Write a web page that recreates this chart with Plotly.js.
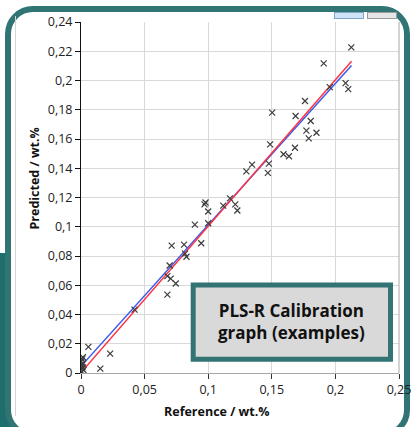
<!DOCTYPE html>
<html>
<head>
<meta charset="utf-8">
<script src="https://cdn.plot.ly/plotly-3.0.1.min.js"></script>
<style>
  html, body { margin:0; padding:0; background:#ffffff; width:412px; height:427px; overflow:hidden; }
  #block { position:absolute; left:0; top:253px; width:40px; height:180px; background:#1f6e6e; }
  #frame { position:absolute; left:5px; top:6px; width:393px; height:420px; border:6px solid #317474; border-radius:28px; background:#ffffff; }
  #vline { position:absolute; left:15px; top:16px; width:1px; height:400px; background:#d4d4d4; }
  #btn1 { position:absolute; left:334px; top:12px; width:28px; height:5px; background:#cfe4f7; border:1px solid #7fa7c9; }
  #btn2 { position:absolute; left:367px; top:12px; width:28px; height:5px; background:#e6e6e6; border:1px solid #9a9a9a; }
  #chart { position:absolute; left:0; top:0; width:412px; height:427px; }
</style>
</head>
<body>
<div id="block"></div>
<div id="frame"></div>
<div id="vline"></div>
<div id="btn1"></div>
<div id="btn2"></div>
<div id="chart"></div>
<script>
// Reference values (wt.%)
const refX = [
  0.2125, 0.1908, 0.1956, 0.2080, 0.2101, 0.1503, 0.1687, 0.1761, 0.1806, 0.1772,
  0.1851, 0.1790, 0.1487, 0.1592, 0.1635, 0.1682, 0.1477, 0.1469, 0.1300, 0.1345,
  0.1118, 0.1171, 0.1213, 0.1229, 0.0971, 0.0979, 0.1000, 0.1000, 0.0895, 0.0945,
  0.0810, 0.0713, 0.0818, 0.0829, 0.0697, 0.0679, 0.0705, 0.0745, 0.0679, 0.0421,
  0.0058, 0.0015, 0.0229, 0.0152, 0.0003, 0.0010, 0.0005, 0.0012, 0.0020, 0.0006,
  0.0010, 0.0002, 0.0015
];
// Predicted values (wt.%)
const predY = [
  0.2227, 0.2117, 0.1955, 0.1982, 0.1941, 0.1780, 0.1757, 0.1860, 0.1723, 0.1657,
  0.1643, 0.1604, 0.1563, 0.1496, 0.1482, 0.1540, 0.1432, 0.1368, 0.1379, 0.1425,
  0.1144, 0.1194, 0.1153, 0.1111, 0.1153, 0.1166, 0.1104, 0.1024, 0.1015, 0.0887,
  0.0878, 0.0871, 0.0816, 0.0795, 0.0735, 0.0662, 0.0645, 0.0612, 0.0536, 0.0433,
  0.0179, 0.0108, 0.0133, 0.0030, 0.0080, 0.0095, 0.0060, 0.0040, 0.0020, 0.0010,
  0.0030, 0.0005, 0.0065
];
// Regression lines
const fitX = [0, 0.2127];
const redY = [0.0003, 0.2131];
const blueY = [0.0046, 0.2103];

// Tick labels
const xTickVals = [0, 0.05, 0.1, 0.15, 0.2, 0.25];
const xTickText = ["0", "0,05", "0,1", "0,15", "0,2", "0,25"];
const yTickVals = [0, 0.02, 0.04, 0.06, 0.08, 0.1, 0.12, 0.14, 0.16, 0.18, 0.2, 0.22, 0.24];
const yTickText = ["0", "0,02", "0,04", "0,06", "0,08", "0,1", "0,12", "0,14", "0,16", "0,18", "0,2", "0,22", "0,24"];

const boxText = "PLS-R Calibration<br>graph (examples)";
const xTitle = "Reference / wt.%";
const yTitle = "Predicted / wt.%";

const traces = [
  { x: fitX, y: blueY, mode: 'lines', line: { color: '#3a5cf0', width: 1.5 }, hoverinfo: 'skip' },
  { x: fitX, y: redY, mode: 'lines', line: { color: '#ff3340', width: 1.5 }, hoverinfo: 'skip' },
  { x: refX, y: predY, mode: 'markers',
    marker: { symbol: 'x-thin-open', size: 6, line: { color: '#3c3c3c', width: 1.2 }, color: '#3c3c3c' } }
];

const tickFont = { family: 'Open Sans, sans-serif', size: 12.5, color: '#222222' };

const layout = {
  width: 412, height: 427,
  margin: { l: 81, r: 13, t: 22, b: 54, pad: 0 },
  paper_bgcolor: 'rgba(0,0,0,0)',
  plot_bgcolor: '#ffffff',
  showlegend: false,
  xaxis: {
    range: [0, 0.25], tickvals: xTickVals, ticktext: xTickText,
    ticks: 'outside', ticklen: 5, tickcolor: '#333333', tickwidth: 1,
    showgrid: true, gridcolor: '#d9d9d9', gridwidth: 1,
    showline: true, linecolor: '#a8a8a8', linewidth: 1,
    zeroline: false, tickfont: tickFont, fixedrange: true
  },
  yaxis: {
    range: [0, 0.24], tickvals: yTickVals, ticktext: yTickText,
    ticks: 'outside', ticklen: 5, tickcolor: '#111111', tickwidth: 1,
    showgrid: true, gridcolor: '#d9d9d9', gridwidth: 1,
    showline: true, linecolor: '#111111', linewidth: 1,
    zeroline: false, tickfont: tickFont, fixedrange: true
  },
  shapes: [
    { type: 'line', xref: 'paper', yref: 'paper', x0: 1, x1: 1, y0: 0, y1: 1,
      line: { color: '#a8a8a8', width: 1 } },
    { type: 'rect', xref: 'paper', yref: 'paper', layer: 'above',
      x0: 0.3528, x1: 0.9733, y0: 0.0394, y1: 0.2509,
      fillcolor: '#d9d9d9', line: { color: '#337373', width: 5 } }
  ],
  annotations: [
    { text: boxText, xref: 'paper', yref: 'paper', x: 0.663, y: 0.147,
      xanchor: 'center', yanchor: 'middle', showarrow: false, align: 'center',
      font: { family: 'Open Sans, sans-serif', size: 17, color: '#111111', weight: 'bold' } },
    { text: '<b>' + xTitle + '</b>', xref: 'paper', yref: 'paper', x: 0.4277, y: -0.1086,
      xanchor: 'center', yanchor: 'middle', showarrow: false,
      font: { family: 'Open Sans, sans-serif', size: 12.5, color: '#111111' } },
    { text: '<b>' + yTitle + '</b>', xref: 'paper', yref: 'paper', x: -0.1447, y: 0.554,
      xanchor: 'center', yanchor: 'middle', showarrow: false, textangle: -90,
      font: { family: 'Open Sans, sans-serif', size: 12.5, color: '#111111' } }
  ]
};

Plotly.newPlot('chart', traces, layout, { displayModeBar: false, staticPlot: true });
</script>
</body>
</html>
